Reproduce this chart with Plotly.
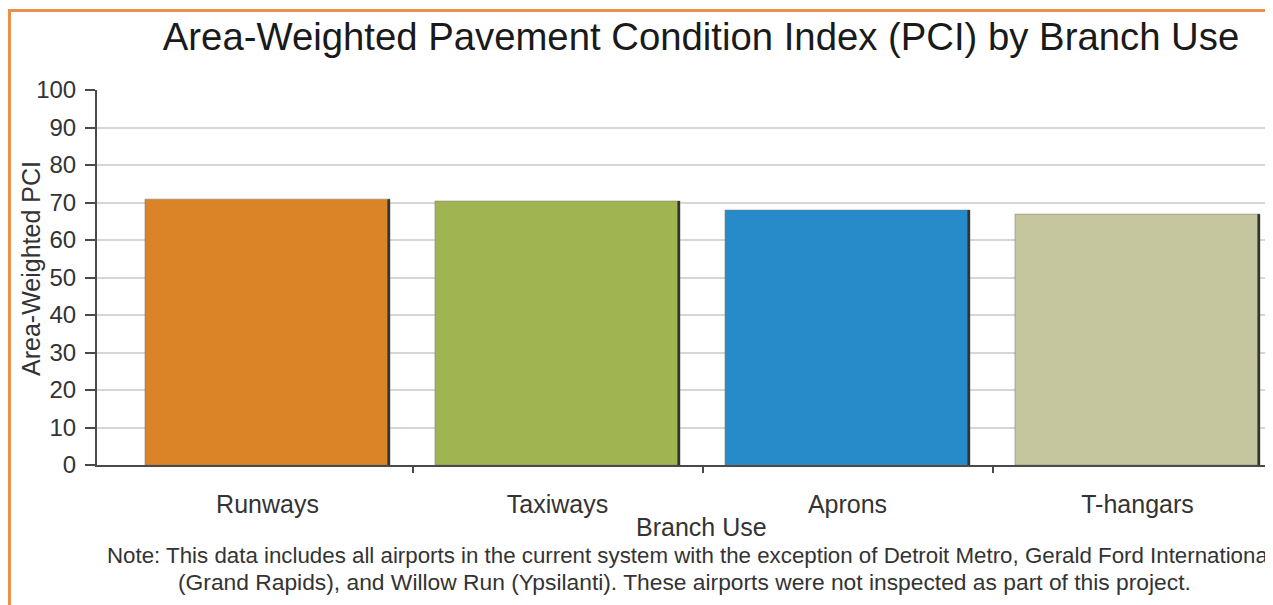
import plotly.graph_objects as go

categories = ["Runways", "Taxiways", "Aprons", "T-hangars"]
pci_values = [70.9, 70.4, 68.0, 66.9]
bar_colors = ["#DB8427", "#A0B552", "#288BC9", "#C5C69D"]
y_ticks = [0, 10, 20, 30, 40, 50, 60, 70, 80, 90, 100]

positions = list(range(len(categories)))
FONT = "Arial, 'Liberation Sans', sans-serif"

# page offset of the figure (browser default body margin)
OFF = 8
W, H = 1273 - OFF, 605 - OFF
# plot area in page pixels
L, R, T, B = 97, 1273, 90, 465
def px_x(p):
    return (p - L) / (R - L)
def px_y(p):
    return (B - p) / (B - T)

fig = go.Figure()
fig.add_trace(go.Bar(
    x=positions, y=pci_values, width=0.845, offset=-0.4225,
    marker=dict(color=bar_colors, line=dict(color="rgba(120,120,120,0.5)", width=1)),
    hoverinfo="x+y", showlegend=False,
))
# dark shadow edge on right side of each bar
fig.add_trace(go.Bar(
    x=positions, y=pci_values, width=0.009, offset=0.4135,
    marker=dict(color="#333333", line=dict(width=0)),
    hoverinfo="skip", showlegend=False,
))

fig.update_layout(
    width=W, height=H,
    margin=dict(l=L - OFF, r=1273 - R, t=T - OFF, b=605 - B),
    paper_bgcolor="white", plot_bgcolor="white",
    barmode="overlay",
    font=dict(family=FONT, color="#333333"),
    title=dict(
        text="Area-Weighted Pavement Condition Index (PCI) by Branch Use",
        x=(701 - OFF) / W, xanchor="center", y=1 - (37 - OFF) / H, yanchor="middle",
        font=dict(family=FONT, size=38.3, color="#1a1a1a"),
    ),
    xaxis=dict(
        range=[(L - 267.5) / 290, (R - 267.5) / 290],
        tickmode="array", tickvals=positions, ticktext=categories,
        ticks="", showgrid=False, zeroline=False,
        showline=True, linecolor="#4a4a4a", linewidth=2,
        tickfont=dict(size=25, color="#333333"),
        ticklabelstandoff=16,
        minor=dict(tickvals=[0.5, 1.5, 2.5], ticks="outside", ticklen=6,
                   tickcolor="#4a4a4a", tickwidth=2, showgrid=False),
        fixedrange=True,
    ),
    yaxis=dict(
        range=[0, 100], tickmode="array", tickvals=y_ticks,
        ticks="outside", ticklen=10, tickcolor="#4a4a4a", tickwidth=2,
        showgrid=True, gridcolor="#d6d6d6", gridwidth=2,
        zeroline=False, showline=True, linecolor="#4a4a4a", linewidth=2,
        tickfont=dict(size=24, color="#333333"),
        ticklabelstandoff=4,
        fixedrange=True,
    ),
    annotations=[
        dict(text="Branch Use", xref="paper", yref="paper",
             x=px_x(701), y=px_y(527), xanchor="center", yanchor="middle",
             showarrow=False, font=dict(size=25, color="#333333")),
        dict(text="Area-Weighted PCI", xref="paper", yref="paper",
             x=px_x(31), y=px_y(269), xanchor="center", yanchor="middle",
             textangle=-90, showarrow=False, font=dict(size=25, color="#333333")),
        dict(text="Note: This data includes all airports in the current system with the exception of Detroit Metro, Gerald Ford International",
             xref="paper", yref="paper", x=px_x(105), y=px_y(555),
             xanchor="left", yanchor="middle", showarrow=False,
             font=dict(size=22.3, color="#333333")),
        dict(text="(Grand Rapids), and Willow Run (Ypsilanti). These airports were not inspected as part of this project.",
             xref="paper", yref="paper", x=px_x(684), y=px_y(582),
             xanchor="center", yanchor="middle", showarrow=False,
             font=dict(size=22.8, color="#333333")),
    ],
    shapes=[
        dict(type="rect", xref="paper", yref="paper",
             x0=px_x(OFF + 1.5), x1=px_x(1300), y0=px_y(700), y1=px_y(OFF + 2.5),
             line=dict(color="#EE8E48", width=3), fillcolor="rgba(0,0,0,0)",
             layer="below"),
    ],
)

fig.write_html("out.html")
